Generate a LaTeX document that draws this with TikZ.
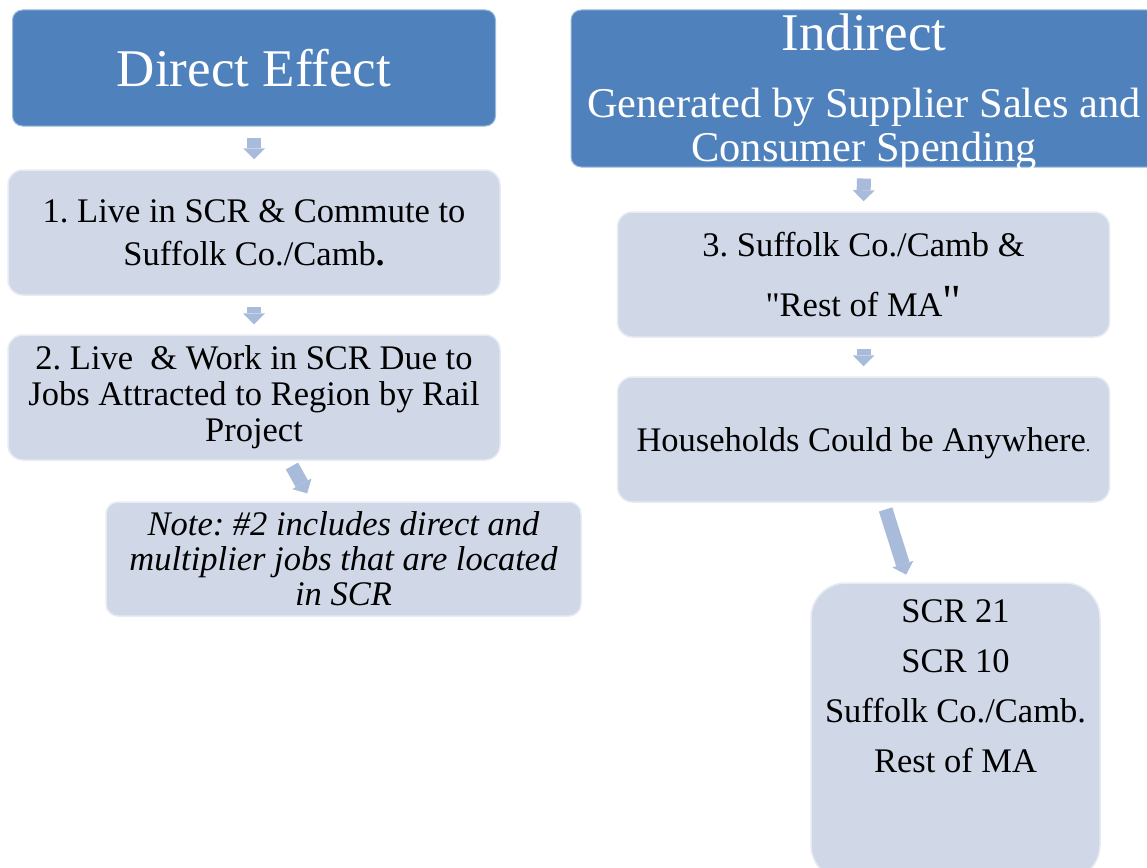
\documentclass[tikz,border=0pt]{standalone}
\usepackage{fontspec}
\setmainfont{Liberation Serif}
\newfontfamily\quotefont{Liberation Serif}
\usetikzlibrary{arrows.meta,positioning}
\definecolor{headblue}{RGB}{79,129,189}
\definecolor{boxblue}{RGB}{208,216,232}
\definecolor{flowblue}{RGB}{169,187,218}
\frenchspacing

\begin{document}
\begin{tikzpicture}[x=1pt,y=-1pt,>={Triangle[width=22pt,length=11pt,line width=0pt]},font=\fontsize{34.5}{43}\selectfont]
  \tikzset{head/.style={rectangle,rounded corners=10pt,fill=headblue,draw=headblue!55!white,line width=1pt,text=white,align=center,inner sep=0pt},
    box/.style={rectangle,rounded corners=15pt,fill=boxblue,draw=boxblue!50!white,line width=1.5pt,align=center,inner sep=0pt,minimum width=492pt,minimum height=125pt},
    flow/.style={->,line width=14pt,color=flowblue,shorten <=11pt,shorten >=10pt}}
  \useasboundingbox (0,0) rectangle (1147,867);
  \clip (0,0) rectangle (1147,867);
  \node[head,minimum width=483pt,minimum height=116pt,font=\fontsize{53}{53}\selectfont] (d) at (254,68) {Direct Effect};
  \node[box] (d1) at (254,232.5) {1. Live in SCR \& Commute to\\Suffolk Co./Camb\textbf{.}};
  \node[box,font=\fontsize{34.5}{36}\selectfont] (d2) at (254,397.5) {2. Live~ \& Work in SCR Due to\\Jobs Attracted to Region by Rail\\Project};
  \node[box,minimum width=475pt,minimum height=114pt,rounded corners=12pt,font=\itshape\fontsize{34.5}{35}\selectfont] (n) at (343.5,559) {Note: \#2 includes direct and\\multiplier jobs that are located\\in SCR};
  \node[head,minimum width=586pt,minimum height=157pt] (i) at (864,88.5) {};
  \node[text=white,align=center,inner sep=0pt,font=\fontsize{42.4}{44}\selectfont] (it) at (864,92.5) {{\fontsize{53}{53}\selectfont Indirect}\\[23pt]Generated by Supplier Sales and\\Consumer Spending};
  \node[box,font=\fontsize{34.5}{60}\selectfont] (i3) at (863.5,274.5) {3. Suffolk Co./Camb \&\\{\quotefont"}Rest of MA{\quotefont\fontsize{46}{46}\selectfont"}};
  \node[box] (i4) at (863.5,439.5) {\rule{0pt}{31pt}Households Could be Anywhere{\fontsize{18}{18}\selectfont.}};
  \node[box,minimum width=289pt,minimum height=297pt,rounded corners=35pt] (s) at (955.5,731.5) {};
  \node[inner sep=0pt,align=center,font=\fontsize{34.5}{50}\selectfont,below=17pt of s.north] (sl) {SCR 21\\SCR 10\\Suffolk Co./Camb.\\Rest of MA};
  \path[flow] (d) edge (d1) (d1) edge (d2) (i) edge (i3) (i3) edge (i4);
  \path[flow] (d2) edge[shorten <=6pt,shorten >=9pt] (n) (i4) edge[shorten <=7pt,shorten >=8pt] (s);
\end{tikzpicture}
\end{document}
